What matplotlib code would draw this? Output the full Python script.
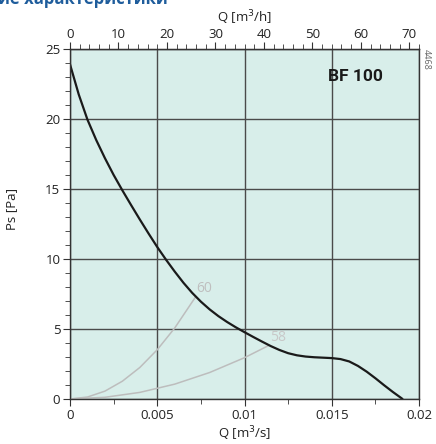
import matplotlib.pyplot as plt
from matplotlib.ticker import MultipleLocator

plt.rcParams['font.family'] = ['Open Sans', 'DejaVu Sans']

# fan curve BF 100, Q in m3/s, Ps in Pa
q_fan = [0, 0.0005, 0.001, 0.0015, 0.002, 0.0025, 0.003, 0.0035, 0.004,
         0.0045, 0.005, 0.0055, 0.006, 0.0065, 0.007, 0.0075, 0.008, 0.0085,
         0.009, 0.0095, 0.010, 0.0105, 0.011, 0.0115, 0.012, 0.0125, 0.013,
         0.0135, 0.014, 0.0145, 0.015, 0.0155, 0.016, 0.0165, 0.017, 0.0175,
         0.018, 0.0185, 0.019, 0.01905]
ps_fan = [23.9, 21.75, 19.95, 18.5, 17.2, 16.0, 14.9, 13.85, 12.82,
          11.82, 10.85, 9.95, 9.1, 8.3, 7.58, 6.95, 6.4, 5.92,
          5.5, 5.12, 4.77, 4.43, 4.1, 3.78, 3.5, 3.27, 3.12,
          3.03, 2.98, 2.95, 2.92, 2.85, 2.68, 2.36, 1.95, 1.48,
          0.98, 0.5, 0.05, 0.0]

# system curves, labelled by sound level
q_sys60 = [0, 0.001, 0.002, 0.003, 0.004, 0.005, 0.006, 0.0072]
ps_sys60 = [0, 0.14, 0.56, 1.27, 2.25, 3.52, 5.07, 7.3]
q_sys58 = [0, 0.002, 0.004, 0.006, 0.008, 0.010, 0.0114]
ps_sys58 = [0, 0.12, 0.47, 1.06, 1.89, 2.95, 3.83]
sys_labels = ['60', '58']

fig = plt.figure(figsize=(4.36, 4.44), dpi=100)
ax = fig.add_axes([0.1606, 0.1014, 0.8005, 0.7883])
ax.set_facecolor('#d8eeea')

ax.plot(q_sys60, ps_sys60, color='#bdbdbd', lw=1.1)
ax.plot(q_sys58, ps_sys58, color='#bdbdbd', lw=1.1)
ax.plot(q_fan, ps_fan, color='#1a1a1a', lw=1.6, solid_capstyle='round')
ax.text(q_sys60[-1] + 0.00005, ps_sys60[-1] + 0.05, sys_labels[0],
        color='#bfbfbf', fontsize=10, va='bottom')
ax.text(q_sys58[-1] + 0.00005, ps_sys58[-1] + 0.05, sys_labels[1],
        color='#c8c8c8', fontsize=10, va='bottom')

ax.set_xlim(0, 0.02)
ax.set_ylim(0, 25)
ax.yaxis.set_major_locator(MultipleLocator(5))
ax.yaxis.set_minor_locator(MultipleLocator(1))
ax.xaxis.set_minor_locator(MultipleLocator(0.0025))
ax.set_xticks([0, 0.005, 0.01, 0.015, 0.02])
ax.set_xticklabels(['0', '0.005', '0.01', '0.015', '0.02'])
ax.grid(True, which='major', color='#4a4a4a', lw=1)
ax.tick_params(which='both', direction='out', colors='#333333',
               labelcolor='#222222', labelsize=9.5, pad=2)
ax.tick_params(which='major', length=5)
ax.tick_params(which='minor', length=3.5)
for s in ax.spines.values():
    s.set_color('#333333')
    s.set_linewidth(1)

ax.set_xlabel('Q [m$^3$/s]', fontsize=9.5, color='#222222', labelpad=2)
ax.set_ylabel('Ps [Pa]', fontsize=9.5, color='#222222')
ax.yaxis.set_label_coords(-0.15, 0.543)

# top axis in m3/h
top = ax.secondary_xaxis('top', functions=(lambda x: x * 3600, lambda x: x / 3600))
top.xaxis.set_major_locator(MultipleLocator(10))
top.xaxis.set_minor_locator(MultipleLocator(2))
top.tick_params(which='both', direction='out', colors='#333333',
                labelcolor='#222222', labelsize=9.5, pad=1)
top.tick_params(which='major', length=5)
top.tick_params(which='minor', length=3.5)
top.set_xlabel('Q [m$^3$/h]', fontsize=9.5, color='#222222', labelpad=4)

ax.text(0.0179, 23.0, 'BF 100', fontsize=12.5, fontweight='bold',
        family=['Roboto', 'DejaVu Sans'], color='#1a1a1a',
        ha='right', va='center')
fig.text(0.978, 0.867, '4468', rotation=270, fontsize=6.5, color='#666666',
         ha='center', va='center')
fig.text(-0.005, 0.991, 'ие характеристики', fontsize=12, fontweight='bold',
         color='#1f5d9c', ha='left', va='baseline')

fig.savefig('out.png', dpi=100)
